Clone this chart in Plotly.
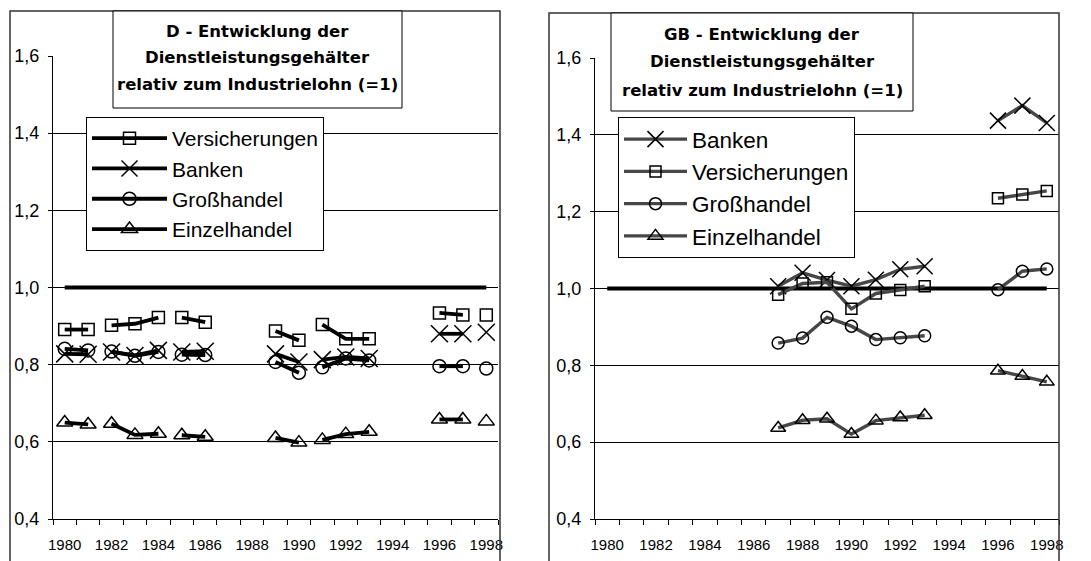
import plotly.graph_objects as go

# Jahre als Kategorien der x-Achse
YEARS = list(range(1980, 1999))
XTICKS = list(range(1980, 1999, 2))
YTICKS = [0.4, 0.6, 0.8, 1.0, 1.2, 1.4, 1.6]
INDUSTRIE = [1.0] * len(YEARS)

# Deutschland
D_VERS = [0.891, 0.891, 0.902, 0.906, 0.922, 0.922, 0.910, None, None, 0.887,
          0.863, 0.904, 0.867, 0.867, None, None, 0.934, 0.929, 0.929]
D_BANK = [0.828, 0.827, 0.833, 0.824, 0.837, 0.833, 0.835, None, None, 0.828,
          0.807, 0.813, 0.820, 0.816, None, None, 0.880, 0.880, 0.884]
D_GROSS = [0.841, 0.837, 0.834, 0.823, 0.833, 0.826, 0.825, None, None, 0.807,
           0.779, 0.793, 0.816, 0.811, None, None, 0.796, 0.796, 0.790]
D_EINZ = [0.650, 0.645, 0.647, 0.618, 0.621, 0.617, 0.613, None, None, 0.610,
          0.598, 0.605, 0.620, 0.626, None, None, 0.658, 0.658, 0.653]
D_BREAKS = [1981, 1984, 1990, 1997]  # Linien im Original hier unterbrochen

# Großbritannien
GB_BANK = [None] * 7 + [1.006, 1.041, 1.022, 1.006, 1.023, 1.050, 1.058,
                        None, None, 1.437, 1.476, 1.431]
GB_VERS = [None] * 7 + [0.984, 1.013, 1.016, 0.947, 0.987, 0.996, 1.006,
                        None, None, 1.235, 1.245, 1.254]
GB_GROSS = [None] * 7 + [0.858, 0.871, 0.925, 0.902, 0.867, 0.872, 0.877,
                         None, None, 0.997, 1.045, 1.051]
GB_EINZ = [None] * 7 + [0.637, 0.657, 0.661, 0.621, 0.656, 0.664, 0.670,
                        None, None, 0.786, 0.772, 0.757]

W, H = 1091, 561
OFF = 8  # Seitenrand des Browsers (body margin)


def px(x):
    return (x - OFF) / W


def py(y):
    return 1 - (y - OFF) / H


def split(values, breaks):
    xs, ys = [], []
    for yr, v in zip(YEARS, values):
        xs.append(yr)
        ys.append(v)
        if yr in breaks:
            xs.append(yr + 0.5)
            ys.append(None)
    return xs, ys


SYM = {"Versicherungen": ("square-open", 12),
       "Banken": ("x-thin-open", 17),
       "Großhandel": ("circle-open", 13),
       "Einzelhandel": ("triangle-up-open", 14)}

fig = go.Figure()

# Bezugslinie Industrielohn = 1
for xa, ya in [("x", "y"), ("x2", "y2")]:
    fig.add_trace(go.Scatter(x=YEARS, y=INDUSTRIE, mode="lines", xaxis=xa, yaxis=ya,
                             line=dict(color="black", width=4), showlegend=False,
                             hoverinfo="skip"))

d_series = [("Versicherungen", D_VERS), ("Banken", D_BANK),
            ("Großhandel", D_GROSS), ("Einzelhandel", D_EINZ)]
for name, vals in d_series:
    xs, ys = split(vals, D_BREAKS)
    sym, size = SYM[name]
    fig.add_trace(go.Scatter(x=xs, y=ys, name=name, mode="lines+markers",
                             xaxis="x", yaxis="y", legend="legend",
                             line=dict(color="black", width=3.8),
                             marker=dict(symbol=sym, size=size, color="black",
                                         line=dict(color="black", width=1.5))))

gb_series = [("Banken", GB_BANK), ("Versicherungen", GB_VERS),
             ("Großhandel", GB_GROSS), ("Einzelhandel", GB_EINZ)]
for name, vals in gb_series:
    sym, size = SYM[name]
    fig.add_trace(go.Scatter(x=YEARS, y=vals, name=name, mode="lines+markers",
                             xaxis="x2", yaxis="y2", legend="legend2",
                             line=dict(color="#474747", width=3.4),
                             marker=dict(symbol=sym, size=size - 1, color="black",
                                         line=dict(color="black", width=1.5))))

FONT = "Liberation Sans, Arial, sans-serif"

xax = dict(range=[1979.5, 1998.5], tickvals=XTICKS, ticks="", showgrid=False,
           showline=True, linecolor="black", linewidth=1, zeroline=False,
           automargin=False,
           tickfont=dict(family=FONT, size=15, color="black"), ticklabelstandoff=12,
           minor=dict(tick0=1979.5, dtick=1, ticks="outside", ticklen=5,
                      tickcolor="black", showgrid=False))
yax = dict(range=[0.4, 1.6], tickvals=YTICKS, tickformat=".1f", showgrid=True,
           gridcolor="black", gridwidth=1, showline=True, linecolor="black",
           linewidth=1, ticks="outside", ticklen=4, tickcolor="black", tickwidth=1,
           zeroline=False, ticklabelstandoff=5, automargin=False,
           tickfont=dict(family=FONT, size=18, color="black"))


def legend_style(size, itemwidth):
    return dict(bgcolor="white", bordercolor="black", borderwidth=1,
                font=dict(family=FONT, size=size, color="black"),
                xanchor="left", yanchor="top", tracegroupgap=0,
                itemwidth=itemwidth)


shapes = [
    # Rahmen der beiden Diagramme
    dict(type="rect", xref="paper", yref="paper", x0=px(10), x1=px(500),
         y0=py(11), y1=-0.1, line=dict(color="#333333", width=1.5), layer="above"),
    dict(type="rect", xref="paper", yref="paper", x0=px(549), x1=px(1059),
         y0=py(13), y1=-0.1, line=dict(color="#333333", width=1.5), layer="above"),
    # Titelkästen
    dict(type="rect", xref="paper", yref="paper", x0=px(113), x1=px(402),
         y0=py(11), y1=py(108), fillcolor="white",
         line=dict(color="black", width=1), layer="above"),
    dict(type="rect", xref="paper", yref="paper", x0=px(611), x1=px(913),
         y0=py(13), y1=py(111), fillcolor="white",
         line=dict(color="black", width=1), layer="above"),
]

TFONT = dict(family="DejaVu Sans", size=16.5, color="black", weight="bold")
titles = [
    (257, [32, 58, 85], ["D - Entwicklung der", "Dienstleistungsgehälter",
                         "relativ zum Industrielohn (=1)"]),
    (762, [35, 62, 90], ["GB - Entwicklung der", "Dienstleistungsgehälter",
                         "relativ zum Industrielohn (=1)"]),
]
annotations = []
for cx, ys, lines in titles:
    for yy, txt in zip(ys, lines):
        annotations.append(dict(text=txt, x=px(cx), y=py(yy), xref="paper", yref="paper",
                                xanchor="center", yanchor="middle", showarrow=False,
                                font=TFONT))

fig.update_layout(
    template="none",
    width=W, height=H, autosize=False,
    margin=dict(l=0, r=0, t=0, b=0, pad=0, autoexpand=False),
    paper_bgcolor="white", plot_bgcolor="white",
    separators=", ",
    xaxis=dict(domain=[px(53), px(498)], anchor="y", **xax),
    yaxis=dict(domain=[py(519), py(56)], anchor="x", **yax),
    xaxis2=dict(domain=[px(595), px(1059)], anchor="y2", **xax),
    yaxis2=dict(domain=[py(519), py(58)], anchor="x2", **yax),
    legend=dict(x=px(86), y=py(117), **legend_style(21, 75)),
    legend2=dict(x=px(618), y=py(117), **legend_style(22.5, 63)),
    shapes=shapes,
    annotations=annotations,
)

fig.write_html("out.html")
